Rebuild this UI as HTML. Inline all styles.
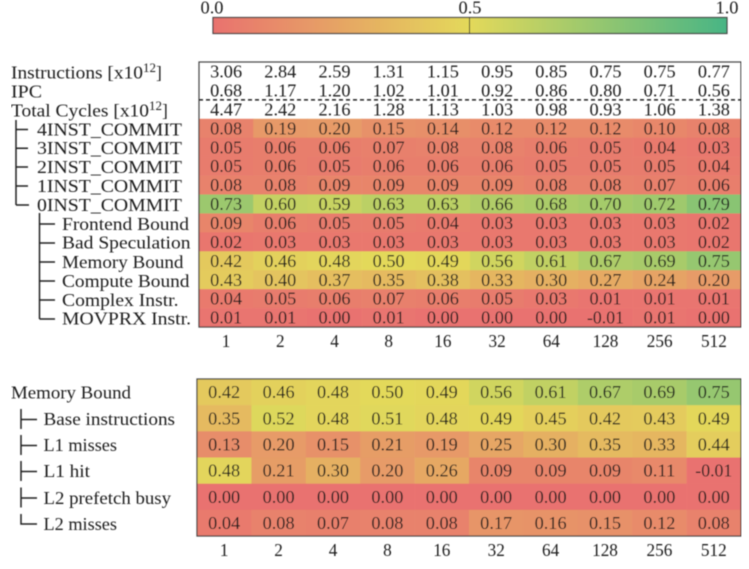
<!DOCTYPE html>
<html>
<head>
<meta charset="utf-8">
<title>Heatmap tables</title>
<style>
html,body{margin:0;padding:0;background:#fff;width:749px;height:569px;overflow:hidden}
svg{display:block}
text{font-family:"Liberation Serif",serif;font-size:17.5px;fill:#1f1f1f}
.sup{font-size:12.5px}
</style>
</head>
<body>
<svg id="chart" xmlns="http://www.w3.org/2000/svg" width="749" height="569" viewBox="0 0 749 569">
<defs>
<linearGradient id="cbgrad" x1="0" x2="1" y1="0" y2="0">
<stop offset="0" stop-color="#e9726f"/>
<stop offset="0.5" stop-color="#e3d95a"/>
<stop offset="1" stop-color="#48b585"/>
</linearGradient>
<filter id="soft" x="0" y="0" width="100%" height="100%"><feGaussianBlur stdDeviation="0.4"/></filter>
</defs>
<g id="root" filter="url(#soft)">
<g>
<rect x="213" y="17.5" width="514" height="16" fill="url(#cbgrad)" stroke="#444" stroke-width="1.2"/>
<line x1="469.5" x2="469.5" y1="17.5" y2="33.5" stroke="#333" stroke-width="1"/>
<text x="212" y="13.5" text-anchor="middle" textLength="23">0.0</text>
<text x="470" y="13.5" text-anchor="middle" textLength="23">0.5</text>
<text x="727" y="13.5" text-anchor="middle" textLength="23">1.0</text>
</g>
<g>
<text x="11" y="78.5" textLength="132">Instructions [x10</text>
<text class="sup" x="143" y="72" textLength="13">12</text>
<text x="156" y="78.5">]</text>
<text x="11" y="97.5" textLength="31">IPC</text>
<text x="11" y="116.5" textLength="138">Total Cycles [x10</text>
<text class="sup" x="149" y="110" textLength="13">12</text>
<text x="162" y="116.5">]</text>
<text x="37" y="135.3" textLength="145">4INST_COMMIT</text>
<text x="37" y="154" textLength="145">3INST_COMMIT</text>
<text x="37" y="173" textLength="145">2INST_COMMIT</text>
<text x="37" y="192" textLength="145">1INST_COMMIT</text>
<text x="37" y="211" textLength="145">0INST_COMMIT</text>
<text x="62" y="230" textLength="127">Frontend Bound</text>
<text x="62" y="248.7" textLength="128.5">Bad Speculation</text>
<text x="62" y="268" textLength="121.5">Memory Bound</text>
<text x="62" y="287" textLength="127.5">Compute Bound</text>
<text x="62" y="306" textLength="116.5">Complex Instr.</text>
<text x="62" y="324.7" textLength="129">MOVPRX Instr.</text>
</g>
<g stroke="#222" stroke-width="1.5" fill="none">
<path d="M16 120V205M16 129.5H28M16 148.3H28M16 167H28M16 186H28M16 205H29"/>
<path d="M39.5 213V319M39.5 224H55M39.5 243H55M39.5 262H55M39.5 281H55M39.5 300H55M39.5 319H55"/>
</g>
<g>
<text x="11" y="398.5" textLength="120">Memory Bound</text>
<text x="43.5" y="425" textLength="131.5">Base instructions</text>
<text x="43.5" y="451" textLength="73.5">L1 misses</text>
<text x="43.5" y="477" textLength="46.5">L1 hit</text>
<text x="43.5" y="504" textLength="127.5">L2 prefetch busy</text>
<text x="43.5" y="530" textLength="73.5">L2 misses</text>
</g>
<g stroke="#222" stroke-width="1.5" fill="none">
<path d="M21 409V429M21 419.5H37M21 435V455M21 445.5H37M21 461V481M21 471.5H37M21 487.5V507.5M21 498H37M21 514V524H37"/>
</g>
<g id="plot"></g>
</g>
</svg>
<script>
var columnLabels = ["1", "2", "4", "8", "16", "32", "64", "128", "256", "512"];
var instructionsRow = ["3.06", "2.84", "2.59", "1.31", "1.15", "0.95", "0.85", "0.75", "0.75", "0.77"];
var ipcRow = ["0.68", "1.17", "1.20", "1.02", "1.01", "0.92", "0.86", "0.80", "0.71", "0.56"];
var totalCyclesRow = ["4.47", "2.42", "2.16", "1.28", "1.13", "1.03", "0.98", "0.93", "1.06", "1.38"];
var inst4 = [0.08, 0.19, 0.20, 0.15, 0.14, 0.12, 0.12, 0.12, 0.10, 0.08];
var inst3 = [0.05, 0.06, 0.06, 0.07, 0.08, 0.08, 0.06, 0.05, 0.04, 0.03];
var inst2 = [0.05, 0.06, 0.05, 0.06, 0.06, 0.06, 0.05, 0.05, 0.05, 0.04];
var inst1 = [0.08, 0.08, 0.09, 0.09, 0.09, 0.09, 0.08, 0.08, 0.07, 0.06];
var inst0 = [0.73, 0.60, 0.59, 0.63, 0.63, 0.66, 0.68, 0.70, 0.72, 0.79];
var frontendBound = [0.09, 0.06, 0.05, 0.05, 0.04, 0.03, 0.03, 0.03, 0.03, 0.02];
var badSpeculation = [0.02, 0.03, 0.03, 0.03, 0.03, 0.03, 0.03, 0.03, 0.03, 0.02];
var memoryBound = [0.42, 0.46, 0.48, 0.50, 0.49, 0.56, 0.61, 0.67, 0.69, 0.75];
var computeBound = [0.43, 0.40, 0.37, 0.35, 0.38, 0.33, 0.30, 0.27, 0.24, 0.20];
var complexInstr = [0.04, 0.05, 0.06, 0.07, 0.06, 0.05, 0.03, 0.01, 0.01, 0.01];
var movprxInstr = [0.01, 0.01, 0.00, 0.01, 0.00, 0.00, 0.00, -0.01, 0.01, 0.00];
var baseInstructions = [0.35, 0.52, 0.48, 0.51, 0.48, 0.49, 0.45, 0.42, 0.43, 0.49];
var l1Misses = [0.13, 0.20, 0.15, 0.21, 0.19, 0.25, 0.30, 0.35, 0.33, 0.44];
var l1Hit = [0.48, 0.21, 0.30, 0.20, 0.26, 0.09, 0.09, 0.09, 0.11, -0.01];
var l2PrefetchBusy = [0.00, 0.00, 0.00, 0.00, 0.00, 0.00, 0.00, 0.00, 0.00, 0.00];
var l2Misses = [0.04, 0.08, 0.07, 0.08, 0.08, 0.17, 0.16, 0.15, 0.12, 0.08];

var plainRows = [instructionsRow, ipcRow, totalCyclesRow];
var topHeatRows = [inst4, inst3, inst2, inst1, inst0, frontendBound, badSpeculation, memoryBound, computeBound, complexInstr, movprxInstr];
var bottomHeatRows = [memoryBound, baseInstructions, l1Misses, l1Hit, l2PrefetchBusy, l2Misses];

var NS = "http://www.w3.org/2000/svg";
var plot = document.getElementById("plot");

function make(tag, parent) {
  var el = document.createElementNS(NS, tag);
  parent.appendChild(el);
  return el;
}
function colorScale(v) {
  var low = [233, 114, 111], mid = [227, 217, 90], high = [72, 181, 133];
  var t = Math.max(0, Math.min(1, v));
  var a = t < 0.5 ? low : mid;
  var b = t < 0.5 ? mid : high;
  var f = t < 0.5 ? t * 2 : (t - 0.5) * 2;
  return "rgb(" + a.map(function (c, i) { return Math.round(c + (b[i] - c) * f); }).join(",") + ")";
}
function xScale(box, col) { return box.left + col * (box.right - box.left) / columnLabels.length; }
function yScale(box, row) { return box.top + row * box.rowHeight; }

function drawValue(parent, box, row, col, label) {
  var t = make("text", parent);
  
  
  t.setAttribute("x", xScale(box, col + 0.5));
  t.setAttribute("y", yScale(box, row + 0.5) + 6.1);
  t.setAttribute("text-anchor", "middle");
  t.setAttribute("textLength", label.length === 5 ? 37 : 32);
  t.textContent = label;
}
function drawHeatRows(parent, box, rows, startRow) {
  rows.forEach(function (values, r) {
    values.forEach(function (v, c) {
      var rect = make("rect", parent);
      
      
      rect.setAttribute("x", xScale(box, c));
      rect.setAttribute("y", yScale(box, startRow + r));
      rect.setAttribute("width", xScale(box, c + 1) - xScale(box, c) + 0.3);
      rect.setAttribute("height", box.rowHeight + 0.3);
      rect.setAttribute("fill", colorScale(v));
      drawLater.push([parent, box, startRow + r, c, v.toFixed(2)]);
    });
  });
}
function drawFrame(parent, box, rowCount) {
  var f = make("rect", parent);
  
  
  f.setAttribute("x", box.left);
  f.setAttribute("y", box.top);
  f.setAttribute("width", box.right - box.left);
  f.setAttribute("height", rowCount * box.rowHeight);
  f.setAttribute("fill", "none");
  f.setAttribute("stroke", "#444");
  f.setAttribute("stroke-width", "1.2");
}
function drawTicks(parent, box, rowCount) {
  columnLabels.forEach(function (label, c) {
    var t = make("text", parent);
    
    
    t.setAttribute("x", xScale(box, c + 0.5));
    t.setAttribute("y", yScale(box, rowCount) + 20);
    t.setAttribute("text-anchor", "middle");
    t.setAttribute("textLength", label.length * 8.6);
    t.textContent = label;
  });
}

var drawLater = [];
var topBox = { left: 199, right: 741, top: 62, rowHeight: 18.93 };
var bottomBox = { left: 197, right: 741, top: 379, rowHeight: 26.17 };

var topGroup = make("g", plot);


drawHeatRows(topGroup, topBox, topHeatRows, plainRows.length);
plainRows.forEach(function (values, r) {
  values.forEach(function (label, c) {
    drawLater.push([topGroup, topBox, r, c, label]);
  });
});
var totalRows = plainRows.length + topHeatRows.length;
drawFrame(topGroup, topBox, totalRows);
var dash = make("line", topGroup);


dash.setAttribute("x1", topBox.left);
dash.setAttribute("x2", topBox.right);
dash.setAttribute("y1", yScale(topBox, 2));
dash.setAttribute("y2", yScale(topBox, 2));
dash.setAttribute("stroke", "#222");
dash.setAttribute("stroke-width", "1.5");
dash.setAttribute("stroke-dasharray", "4 3");
drawTicks(topGroup, topBox, totalRows);

var bottomGroup = make("g", plot);


drawHeatRows(bottomGroup, bottomBox, bottomHeatRows, 0);
drawFrame(bottomGroup, bottomBox, bottomHeatRows.length);
drawTicks(bottomGroup, bottomBox, bottomHeatRows.length);

drawLater.forEach(function (d) { drawValue(d[0], d[1], d[2], d[3], d[4]); });

document.querySelectorAll("text[textLength]").forEach(function (el) {
  el.setAttribute("lengthAdjust", "spacingAndGlyphs");
});
</script>
</body>
</html>
